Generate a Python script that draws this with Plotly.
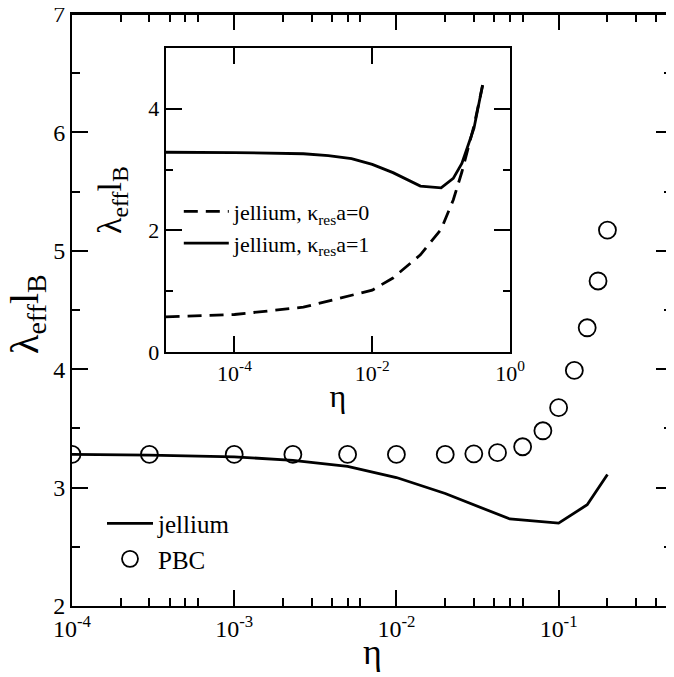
import math
import plotly.graph_objects as go

# ---- main panel data ----
eta_jel = [1e-4, 3e-4, 1e-3, 2.3e-3, 5e-3, 1e-2, 2e-2, 5e-2, 1e-1, 0.15, 0.2]
lam_jel = [3.28, 3.275, 3.26, 3.23, 3.18, 3.085, 2.95, 2.735, 2.70, 2.855, 3.11]

eta_pbc = [1e-4, 3e-4, 1e-3, 2.3e-3, 5e-3, 1e-2, 2e-2, 3e-2, 4.2e-2, 6e-2, 8e-2,
           0.1, 0.125, 0.15, 0.175, 0.2]
lam_pbc = [3.28, 3.28, 3.28, 3.28, 3.28, 3.28, 3.28, 3.285, 3.295, 3.345, 3.48,
           3.675, 3.99, 4.35, 4.745, 5.175]

# ---- inset data ----
eta_in = [1e-5, 1e-4, 1e-3, 2.3e-3, 5e-3, 1e-2, 2e-2, 5e-2, 0.1, 0.15, 0.2, 0.3, 0.4]
lam_k1 = [3.285, 3.28, 3.26, 3.23, 3.18, 3.085, 2.95, 2.73, 2.70, 2.855, 3.10, 3.68, 4.39]
lam_k0 = [0.58, 0.62, 0.74, 0.84, 0.93, 1.02, 1.22, 1.60, 2.02, 2.50, 2.96, 3.72, 4.38]

# ---- tick labels ----
main_xticks = [1e-4, 1e-3, 1e-2, 1e-1]
main_xtext = ["10<sup>-4</sup>", "10<sup>-3</sup>", "10<sup>-2</sup>", "10<sup>-1</sup>"]
main_yticks = [2, 3, 4, 5, 6, 7]
main_ytext = ["2", "3", "4", "5", "6", "7"]
main_yminor = [2.5, 3.5, 4.5, 5.5, 6.5]
main_xminor = [m * 10.0 ** e for e in (-4, -3, -2, -1) for m in (2, 3, 4, 5, 6)]

in_xticks = [1e-4, 1e-2, 1.0]
in_xtext = ["10<sup>-4</sup>", "10<sup>-2</sup>", "10<sup>0</sup>"]
in_yticks = [0, 2, 4]
in_yminor = [1, 3]

FONT = "Liberation Serif, Times New Roman, Times, serif"

fig = go.Figure()

fig.add_trace(go.Scatter(x=eta_jel, y=lam_jel, mode="lines", name="jellium",
                         line=dict(color="black", width=2.8),
                         xaxis="x", yaxis="y", legend="legend"))
fig.add_trace(go.Scatter(x=eta_pbc, y=lam_pbc, mode="markers", name="PBC",
                         marker=dict(symbol="circle-open", size=17, color="black",
                                     line=dict(width=1.8, color="black")),
                         xaxis="x", yaxis="y", legend="legend"))

fig.add_trace(go.Scatter(x=eta_in, y=lam_k0, mode="lines",
                         name="jellium, κ<sub>res</sub>a=0",
                         line=dict(color="black", width=2.8, dash="14px,8px"),
                         xaxis="x2", yaxis="y2", legend="legend2"))
fig.add_trace(go.Scatter(x=eta_in, y=lam_k1, mode="lines",
                         name="jellium, κ<sub>res</sub>a=1",
                         line=dict(color="black", width=2.8),
                         xaxis="x2", yaxis="y2", legend="legend2"))

common = dict(showgrid=False, zeroline=False, showline=True, linewidth=2,
              linecolor="black", mirror="allticks", ticks="inside",
              tickwidth=1.5, tickcolor="black", ticklabeloverflow="allow",
              automargin=False)

fig.update_layout(
    width=674, height=677,
    margin=dict(l=64, r=10, t=6, b=79),
    paper_bgcolor="white", plot_bgcolor="white",
    font=dict(family=FONT, color="black"),
    xaxis=dict(type="log", range=[-4, math.log10(0.5)],
               tickvals=main_xticks, ticktext=main_xtext, ticklen=16,
               tickfont=dict(size=24, family=FONT),
               minor=dict(tickvals=main_xminor, ticklen=8, ticks="inside",
                          tickwidth=1.5, tickcolor="black"),
               **common),
    yaxis=dict(range=[2, 7], tickvals=main_yticks, ticktext=main_ytext,
               ticklen=16,
               tickfont=dict(size=24, family=FONT),
               minor=dict(tickvals=main_yminor, ticklen=8, ticks="inside",
                          tickwidth=1.5, tickcolor="black"),
               **common),
    xaxis2=dict(type="log", range=[-5, 0], domain=[0.156, 0.730], anchor="y2",
                tickvals=in_xticks, ticktext=in_xtext, ticklen=16,
                tickfont=dict(size=22, family=FONT),
                title=dict(text="η", font=dict(size=32, family=FONT), standoff=0),
                **common),
    yaxis2=dict(range=[0, 5], domain=[0.4286, 0.9429], anchor="x2",
                tickvals=in_yticks, ticklen=16,
                tickfont=dict(size=22, family=FONT),
                minor=dict(tickvals=in_yminor, ticklen=7, ticks="inside",
                           tickwidth=1.5, tickcolor="black"),
                title=dict(text="λ<sub>eff</sub>l<sub>B</sub>",
                           font=dict(size=34, family=FONT), standoff=16),
                **common),
    legend=dict(x=0.05, y=0.178, xanchor="left", yanchor="top",
                bgcolor="rgba(0,0,0,0)", font=dict(size=25, family=FONT),
                tracegroupgap=0, itemwidth=46),
    legend2=dict(x=0.178, y=0.7016, xanchor="left", yanchor="top",
                 bgcolor="rgba(0,0,0,0)", font=dict(size=22, family=FONT),
                 itemwidth=45),
    shapes=[
        dict(type="line", xref="paper", yref="paper", x0=0, x1=1, y0=1, y1=1,
             line=dict(color="black", width=2), layer="above"),
    ],
    annotations=[
        dict(text="η", xref="paper", yref="paper", x=0.5, y=0,
             xanchor="center", yanchor="middle", yshift=-46, showarrow=False,
             font=dict(size=36, family=FONT)),
        dict(text="λ<sub>eff</sub>l<sub>B</sub>", xref="paper", yref="paper",
             x=0, y=0.5, xanchor="center", yanchor="middle", textangle=-90,
             xshift=-45, yshift=-4, showarrow=False,
             font=dict(size=40, family=FONT)),
    ],
)

fig.write_html("out.html")
